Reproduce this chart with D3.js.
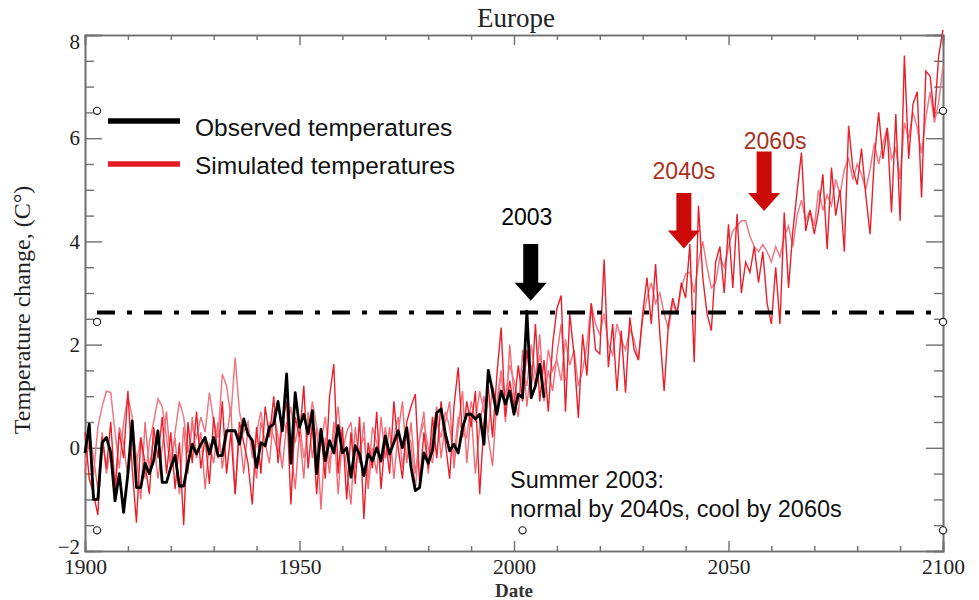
<!DOCTYPE html>
<html>
<head>
<meta charset="utf-8">
<script src="https://cdn.jsdelivr.net/npm/d3@7"></script>
<style>
  html, body { margin: 0; padding: 0; background: #fff; }
  svg { display: block; }
  .serif { font-family: "Liberation Serif", "Times New Roman", serif; }
  .sans { font-family: "Liberation Sans", Arial, sans-serif; }
</style>
</head>
<body>
<svg id="chart" width="979" height="600"></svg>
<script>
// ---------------- DATA ----------------
const title = "Europe";
const xLabel = "Date";
const yLabel = "Temperature change, (C\u00B0)";
const xMajorTicks = [1900, 1950, 2000, 2050, 2100];
const yMajorTicks = [-2, 0, 2, 4, 6, 8];
const legendLabels = ["Observed temperatures", "Simulated temperatures"];

const observedStart = 1900;
const observed = [
  -0.1, 0.46, -1.0, -1.0, 0.1, 0.2, -0.1, -1.03, -0.5, -1.25,
  -0.5, 0.52, -0.77, -0.77, -0.3, -0.5, -0.25, 0.33, -0.67, -0.67,
  -0.38, -0.15, -0.74, -0.74, -0.3, 0.07, -0.12, 0.07, 0.2, -0.12,
  0.2, -0.15, -0.15, 0.33, 0.33, 0.33, 0.07, 0.56, 0.26, 0.14,
  -0.38, 0.1, 0.04, 0.4, 0.46, 0.9, 0.33, 1.43, -0.3, 1.07,
  0.4, 0.65, 0.27, 0.72, -0.5, 0.36, -0.25, 0.14, -0.1, 0.43,
  -0.1, 0.0, -0.57, 0.04, -0.12, -0.54, -0.12, -0.25, 0.0, -0.25,
  0.23, -0.12, 0.1, 0.33, 0.0, 0.39, -0.38, -0.83, -0.77, -0.1,
  -0.3, -0.05, 0.68, 0.75, 0.27, -0.06, 0.07, -0.1, 0.39, 0.65,
  0.65, 0.56, 0.65, 0.07, 1.5, 1.1, 0.65, 1.1, 0.85, 1.1,
  0.65, 1.04, 0.97, 2.65, 0.97, 1.2, 1.62, 0.97
];

const simAStart = 1900;
const simA = [
  0.3, -0.6, -0.9, -1.3, 0.2, -0.4, 0.5, -0.8, 0.3, -0.2,
  1.1, -0.4, -1.45, 0.2, -0.3, -0.9, 0.4, -0.2, 0.6, -0.5,
  0.3, -0.8, 0.1, -1.5, 0.5, -0.3, 0.7, -0.4, 0.2, -0.7,
  0.6, -0.2, 0.9, -0.5, 0.3, -0.9, 0.5, 0.1, -0.3, -1.1,
  0.4, -0.5, 0.8, 0.2, 1.0, -0.3, 0.5, 0.9, -1.1, 0.6,
  0.2, 1.2, -0.4, 0.5, -0.9, 0.3, -0.6, 1.0, 1.62, -0.5,
  0.4, -1.0, 0.3, -0.7, 0.6, -1.38, 0.1, -0.4, 0.7, -0.8,
  0.2, -0.5, 0.9, 0.0, -0.6, 0.5, 0.8, 1.04, -0.7, 0.3,
  -0.4, 0.6, -0.2, 0.9, 0.1, -0.6, 0.8, 1.56, 0.2, 0.9,
  0.4, 1.1, -0.9, 0.5, 1.2, 0.2, 1.4, 2.33, 0.6, 1.3,
  0.8, 1.6, 0.9, 1.9, 1.1, 2.4, 0.9, 1.7, 0.7, 2.0,
  2.7, 2.95, 0.7, 2.6, 1.8, 0.58, 2.2, 1.4, 2.8, 1.9,
  1.82, 3.65, 1.56, 2.4, 1.1, 2.27, 1.07, 2.53, 1.9, 1.7,
  2.6, 3.3, 2.4, 3.56, 2.2, 1.1, 2.4, 2.9, 2.6, 3.2,
  2.9, 3.95, 1.66, 4.69, 3.3, 2.6, 2.27, 3.6, 3.9, 3.0,
  4.33, 3.1, 4.53, 3.0, 3.6, 3.4, 3.9, 3.2, 3.8, 2.8,
  2.4, 3.5, 2.4, 4.56, 3.1, 4.2, 4.98, 5.72, 4.2, 4.6,
  4.14, 4.6, 5.3, 3.85, 5.43, 4.5, 5.0, 3.8, 6.24, 5.4,
  5.1, 5.8, 4.9, 4.14, 5.6, 6.5, 5.6, 6.2, 4.56, 6.47,
  4.4, 7.6, 5.6, 6.66, 6.9, 4.85, 7.3, 7.2, 6.4, 7.6,
  8.1
];

const simBStart = 1900;
const simB = [
  -0.3, 0.1, -0.5, 0.4, 0.8, 1.1, 1.07, 0.3, -0.4, 0.5,
  1.0, 0.6, -0.3, 0.2, -0.6, 0.1, 0.5, 0.95, 0.8, 0.2,
  -0.4, 0.3, 0.9, 0.6, -0.1, 0.4, 0.2, 0.6, 0.3, 1.07,
  0.5, 0.2, 1.43, 1.2, 0.6, 1.75, 0.7, 0.3, 0.5, -0.2,
  0.3, 0.7, 0.0, 0.5, 0.2, -0.1, 0.6, 0.3, 0.8, 0.1,
  0.5, -0.2, 0.3, 0.9, 0.4, 0.1, 0.6, -0.3, 0.2, 0.8,
  -0.1, 0.3, 0.5, -0.4, 0.0, 0.2, -0.6, 0.4, 0.1, -0.3,
  0.4, -0.2, 0.2, 0.6, -0.4, 0.3, 0.1, -0.8, 0.2, 0.5,
  0.0, -0.3, 0.5, 0.2, 0.7, 0.4, -0.2, 0.6, 0.3, 0.2,
  0.9, 0.5, 1.1, 0.7, 0.3, 1.2, 0.8, 1.4, 1.0, 1.6,
  1.3, 0.9, 1.5, 1.2, 2.0, 1.4, 1.8, 1.1, 1.9, 1.5,
  1.7, 1.3, 2.1, 1.6, 1.9, 1.2, 1.5, 2.0, 2.8, 2.4,
  2.2, 2.6, 2.0, 1.8, 2.4, 2.1, 1.9, 2.3, 2.1, 1.7,
  2.5, 2.9, 3.2, 2.8, 3.0, 2.6, 2.3, 2.8, 2.6, 3.1,
  3.37, 3.4, 3.0, 3.6, 4.0, 3.5, 3.1, 3.2, 3.7, 3.5,
  3.9, 4.2, 4.3, 4.4, 4.4, 4.1, 3.9, 3.8, 3.94, 3.8,
  3.6, 3.9, 3.7, 4.1, 4.3, 3.9, 4.5, 4.8, 4.4, 4.6,
  4.3, 5.0, 4.6, 4.9, 4.7, 5.2, 4.9, 5.4, 5.6, 5.2,
  5.5, 5.3, 5.0, 5.4, 5.9, 5.5, 5.9, 6.2, 5.6, 5.8,
  5.2, 6.3, 6.0, 6.5, 6.2, 5.7, 6.4, 6.9, 6.3, 6.7,
  7.4
];

const simCStart = 1900;
const simC = [
  -0.5, 0.3, -0.2, -0.8, 0.3, -0.5, 0.0, -1.0, 0.4, 0.1,
  -0.6, 0.4, -0.2, -1.0, 0.5, -0.4, 0.2, -0.6, 0.0, 0.7,
  -0.3, 0.2, -0.9, 0.4, -0.5, 0.6, -0.2, 0.3, -0.8, 0.1,
  -0.3, 0.5, -0.4, 0.2, 0.8, -0.9, 0.3, -0.5, 0.4, 0.0,
  -0.6, 0.5, 0.1, -0.3, 0.7, 0.2, -0.4, 0.5, 0.0, -0.8,
  0.3, -0.6, 0.7, -0.2, 0.4, -1.2, 0.2, -0.5, 0.5, -0.9,
  0.2, -0.4, -1.1, 0.4, -0.3, 0.5, -0.8, 0.0, -0.5, 0.6,
  -0.2, 0.4, -0.6, 0.3, 0.9, -0.3, 0.5, -0.5, 0.2, 0.7,
  -0.5, 0.3, 0.8, -0.2, 0.5, 0.9, -0.4, 0.4, 1.1, -0.3,
  0.7, -0.5, 0.4, 1.0, 0.2, -0.35, 0.9, 1.5, 0.5, 2.0,
  1.0, 0.6, 1.9, 0.8, 1.6, 1.2, 2.2, 0.9, 1.5, 1.1,
  1.8, 2.4, 1.3
];

// 2003 reference level and markers
const heatLevel = 2.62;
const heatLevelSpan = [1902.8, 2097.7];
const markerPoints = [
  [1902.8, 6.53], [1902.8, 2.44], [1902.8, -1.6],
  [2100, 6.53], [2100, 2.44], [2100, -1.6], [2002, -1.6]
];

// annotation arrows: [year, topValue, tipValue]
const arrows = [
  { label: "2003",  year: 2003.9, top: 3.95, tip: 2.85, color: "#000000", text: "#000000", labelValue: 4.32 },
  { label: "2040s", year: 2039.6, top: 4.94, tip: 3.86, color: "#cc0a0a", text: "#a8321e", labelValue: 5.2 },
  { label: "2060s", year: 2058.3, top: 5.74, tip: 4.59, color: "#cc0a0a", text: "#a8321e", labelValue: 5.8 }
];
const noteLines = ["Summer 2003:", "normal by 2040s, cool by 2060s"];

// ---------------- CHART ----------------
const svg = d3.select("#chart");
const L = 85, R = 943, T = 35, B = 551;
const x = d3.scaleLinear().domain([1900, 2100]).range([L, R]);
const y = d3.scaleLinear().domain([-2, 8]).range([B, T]);

const toPts = (start, arr) => arr.map((v, i) => [start + i, v]);
const line = d3.line().x(d => x(d[0])).y(d => y(d[1]));

const axisColor = "#707070";
const xMinor = d3.range(1900, 2101, 10).filter(v => !xMajorTicks.includes(v));
const yMinor = d3.range(-2, 8.01, 0.5).filter(v => !yMajorTicks.includes(v));

function styleAxis(g) {
  g.select(".domain").attr("stroke", axisColor).attr("stroke-width", 1.6);
  g.selectAll(".tick line").attr("stroke", axisColor).attr("stroke-width", 1.4);
}

// bottom
svg.append("g").attr("transform", `translate(0,${B})`)
  .call(d3.axisBottom(x).tickValues(xMajorTicks).tickSize(-10).tickPadding(8).tickFormat(d3.format("d")))
  .call(styleAxis)
  .call(g => g.selectAll("text").attr("class", "serif").attr("font-size", 21.5).attr("fill", "#222"));
svg.append("g").attr("transform", `translate(0,${B})`)
  .call(d3.axisBottom(x).tickValues(xMinor).tickSize(-5).tickFormat(""))
  .call(styleAxis);
// top
svg.append("g").attr("transform", `translate(0,${T})`)
  .call(d3.axisTop(x).tickValues(xMajorTicks).tickSize(-10).tickFormat(""))
  .call(styleAxis);
svg.append("g").attr("transform", `translate(0,${T})`)
  .call(d3.axisTop(x).tickValues(xMinor).tickSize(-5).tickFormat(""))
  .call(styleAxis);
// left
svg.append("g").attr("transform", `translate(${L},0)`)
  .call(d3.axisLeft(y).tickValues(yMajorTicks).tickSize(-17).tickPadding(5).tickFormat(d => d < 0 ? "\u2212" + Math.abs(d) : d))
  .call(styleAxis)
  .call(g => g.selectAll("text").attr("class", "serif").attr("font-size", 21).attr("fill", "#222"))
  .call(g => g.selectAll(".tick").filter(d => d === 8).select("text").attr("dy", "0.65em"))
  .call(g => g.selectAll(".tick").filter(d => d === -2).select("text").attr("dy", "0.1em"));
svg.append("g").attr("transform", `translate(${L},0)`)
  .call(d3.axisLeft(y).tickValues(yMinor).tickSize(-9).tickFormat(""))
  .call(styleAxis);
// right
svg.append("g").attr("transform", `translate(${R},0)`)
  .call(d3.axisRight(y).tickValues(yMajorTicks).tickSize(-17).tickFormat(""))
  .call(styleAxis);
svg.append("g").attr("transform", `translate(${R},0)`)
  .call(d3.axisRight(y).tickValues(yMinor).tickSize(-9).tickFormat(""))
  .call(styleAxis);

// titles
svg.append("text").attr("class", "serif").attr("x", (L + R) / 2 + 2).attr("y", 27)
  .attr("text-anchor", "middle").attr("font-size", 27).attr("fill", "#222").text(title);
svg.append("text").attr("class", "serif").attr("x", (L + R) / 2).attr("y", 597)
  .attr("text-anchor", "middle").attr("font-size", 19).attr("font-weight", "bold").attr("fill", "#333").text(xLabel);
svg.append("text").attr("class", "serif")
  .attr("transform", `translate(30,${(T + B) / 2 + 17}) rotate(-90)`)
  .attr("text-anchor", "middle").attr("font-size", 24).attr("fill", "#222").text(yLabel);

// simulated lines
const plot = svg.append("g");
plot.append("path").attr("d", line(toPts(simCStart, simC)))
  .attr("fill", "none").attr("stroke", "#f0505c").attr("stroke-width", 1.4).attr("stroke-opacity", 0.85);
plot.append("path").attr("d", line(toPts(simBStart, simB)))
  .attr("fill", "none").attr("stroke", "#ee7a86").attr("stroke-width", 1.5);
plot.append("path").attr("d", line(toPts(simAStart, simA)))
  .attr("fill", "none").attr("stroke", "#e8202c").attr("stroke-width", 1.4);

// heat level dash-dot line
svg.append("line")
  .attr("x1", x(heatLevelSpan[0])).attr("x2", x(heatLevelSpan[1]))
  .attr("y1", y(heatLevel)).attr("y2", y(heatLevel))
  .attr("stroke", "#000").attr("stroke-width", 4)
  .attr("stroke-dasharray", "18,12,5,12");

// observed
plot.append("path").attr("d", line(toPts(observedStart, observed)))
  .attr("fill", "none").attr("stroke", "#000").attr("stroke-width", 2.8).attr("stroke-linejoin", "round");

// markers
svg.selectAll("circle.mk").data(markerPoints).join("circle").attr("class", "mk")
  .attr("cx", d => x(d[0])).attr("cy", d => y(d[1])).attr("r", 3.6)
  .attr("fill", "#fff").attr("stroke", "#222").attr("stroke-width", 1.2);

// legend
const legendY = [121, 164];
const legendColors = ["#000", "#e41a24"];
legendLabels.forEach((lab, i) => {
  svg.append("line").attr("x1", 108).attr("x2", 180).attr("y1", legendY[i]).attr("y2", legendY[i])
    .attr("stroke", legendColors[i]).attr("stroke-width", 5.5);
  svg.append("text").attr("class", "sans").attr("x", 195).attr("y", legendY[i] + (i === 0 ? 15 : 10))
    .attr("font-size", 24.5).attr("fill", "#111").text(lab);
});

// arrows
arrows.forEach(a => {
  const cx = x(a.year), yt = y(a.top), yp = y(a.tip);
  const sw = 7.5, hw = 16, hl = 18;
  const p = d3.path();
  p.moveTo(cx - sw, yt); p.lineTo(cx + sw, yt); p.lineTo(cx + sw, yp - hl);
  p.lineTo(cx + hw, yp - hl); p.lineTo(cx, yp); p.lineTo(cx - hw, yp - hl);
  p.lineTo(cx - sw, yp - hl); p.closePath();
  svg.append("path").attr("d", p.toString()).attr("fill", a.color);
  svg.append("text").attr("class", "sans").attr("x", cx + (a.label === "2060s" ? 11 : (a.label === "2003" ? -4 : 0)))
    .attr("y", y(a.labelValue)).attr("text-anchor", "middle").attr("font-size", 23)
    .attr("fill", a.text).text(a.label);
});

// note
noteLines.forEach((t, i) => {
  svg.append("text").attr("class", "sans").attr("x", 510).attr("y", 488 + i * 29)
    .attr("font-size", 23.5).attr("fill", "#111").text(t);
});
</script>
</body>
</html>
